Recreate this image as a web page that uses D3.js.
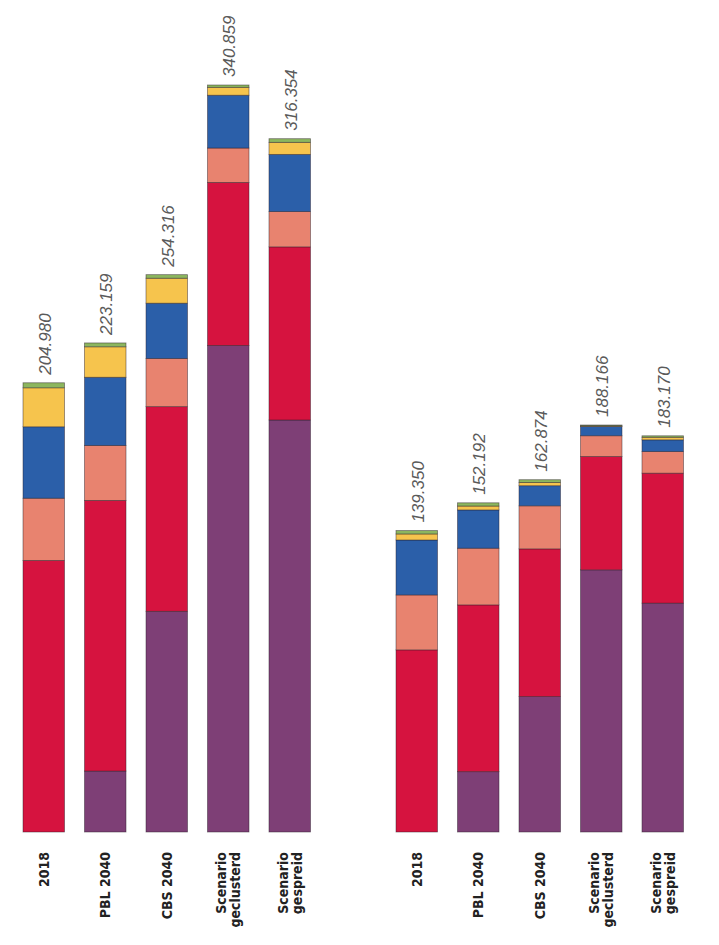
<!DOCTYPE html>
<html><head><meta charset="utf-8">
<script src="https://cdn.jsdelivr.net/npm/d3@7/dist/d3.min.js"></script>
<style>
html,body{margin:0;padding:0;background:#fff;}
svg{display:block;}
</style></head>
<body>
<svg id="chart" width="719" height="945"></svg>
<script>
// ---- DATA ----
const categories = ["2018", "PBL 2040", "CBS 2040", "Scenario geclusterd", "Scenario gespreid"];
const categoryLines = [["2018"], ["PBL 2040"], ["CBS 2040"], ["Scenario", "geclusterd"], ["Scenario", "gespreid"]];
const seriesKeys = ["purple", "crimson", "salmon", "blue", "yellow", "green"];
const seriesColors = ["#7e3f76", "#d6133f", "#e8836f", "#2b5fa9", "#f6c44d", "#8cb65e"];

// Left group
const leftPurple  = [0, 27800, 100700, 222000, 188000];
const leftCrimson = [123900, 123500, 93400, 74400, 79000];
const leftSalmon  = [28400, 25100, 22000, 15700, 16100];
const leftBlue    = [32600, 31100, 25200, 24100, 26100];
const leftYellow  = [17800, 13900, 11400, 3600, 5500];
const leftGreen   = [2280, 1759, 1616, 1059, 1654];

// Right group
const rightPurple  = [0, 27900, 62600, 121200, 105800];
const rightCrimson = [84200, 77100, 68300, 52400, 60100];
const rightSalmon  = [25400, 26200, 19900, 9600, 10000];
const rightBlue    = [25400, 17700, 9300, 4300, 5400];
const rightYellow  = [2800, 1800, 1500, 300, 1200];
const rightGreen   = [1550, 1492, 1274, 366, 670];

// ---- BUILD ----
function buildRows(arrs) {
  return categories.map((c, i) => {
    const r = {category: c};
    seriesKeys.forEach((k, j) => r[k] = arrs[j][i]);
    return r;
  });
}
const groups = [
  {rows: buildRows([leftPurple, leftCrimson, leftSalmon, leftBlue, leftYellow, leftGreen]),
   xRange: [23, 310.5], yTop: 85},
  {rows: buildRows([rightPurple, rightCrimson, rightSalmon, rightBlue, rightYellow, rightGreen]),
   xRange: [396, 683.5], yTop: 425}
];

const svg = d3.select("#chart");
const baseline = 832;
const color = d3.scaleOrdinal().domain(seriesKeys).range(seriesColors);
const locale = d3.formatLocale({decimal: ",", thousands: ".", grouping: [3], currency: ["€", ""]});
const fmt = locale.format(",");
const stack = d3.stack().keys(seriesKeys);

groups.forEach(g => {
  const x = d3.scaleBand().domain(categories).range(g.xRange).paddingInner(0.325).paddingOuter(0);
  const maxTotal = d3.max(g.rows, r => d3.sum(seriesKeys, k => r[k]));
  const y = d3.scaleLinear().domain([0, maxTotal]).range([baseline, g.yTop]);
  const stacked = stack(g.rows);
  const gg = svg.append("g");

  gg.selectAll("g.layer").data(stacked).join("g")
    .attr("class", "layer")
    .attr("fill", d => color(d.key))
    .selectAll("rect").data(d => d).join("rect")
    .attr("x", d => x(d.data.category))
    .attr("width", x.bandwidth())
    .attr("y", d => y(d[1]))
    .attr("height", d => Math.max(0, y(d[0]) - y(d[1])))
    .attr("stroke", "rgba(40,30,40,0.55)")
    .attr("stroke-width", 0.8);

  // total labels
  gg.selectAll("text.total").data(g.rows).join("text")
    .attr("class", "total")
    .attr("transform", d => {
      const t = d3.sum(seriesKeys, k => d[k]);
      return `translate(${x(d.category) + x.bandwidth() / 2 + 1},${y(t) - 8}) rotate(-90)`;
    })
    .attr("dy", "0.35em")
    .attr("text-anchor", "start")
    .attr("font-family", "Liberation Sans, Arial, sans-serif")
    .attr("font-style", "italic")
    .attr("font-size", 17)
    .attr("fill", "#5a5a5a")
    .text(d => fmt(d3.sum(seriesKeys, k => d[k])));

  // category labels
  const xAxis = d3.axisBottom(x).tickSize(0).tickFormat("");
  const axisG = gg.append("g").attr("transform", `translate(0,${baseline})`).call(xAxis);
  axisG.select(".domain").remove();
  axisG.selectAll(".tick").each(function(cat, i) {
    const lines = categoryLines[categories.indexOf(cat)];
    const tk = d3.select(this);
    const n = lines.length;
    lines.forEach((ln, j) => {
      const off = (j - (n - 1) / 2) * 14;
      tk.append("text")
        .attr("transform", `translate(${off},20) rotate(-90)`)
        .attr("dy", "0.35em")
        .attr("text-anchor", "end")
        .attr("font-family", "DejaVu Sans Condensed, DejaVu Sans, sans-serif")
        .attr("font-weight", "bold")
        .attr("font-size", 14)
        .attr("fill", "#222")
        .text(ln);
    });
  });
});
</script>
</body></html>
